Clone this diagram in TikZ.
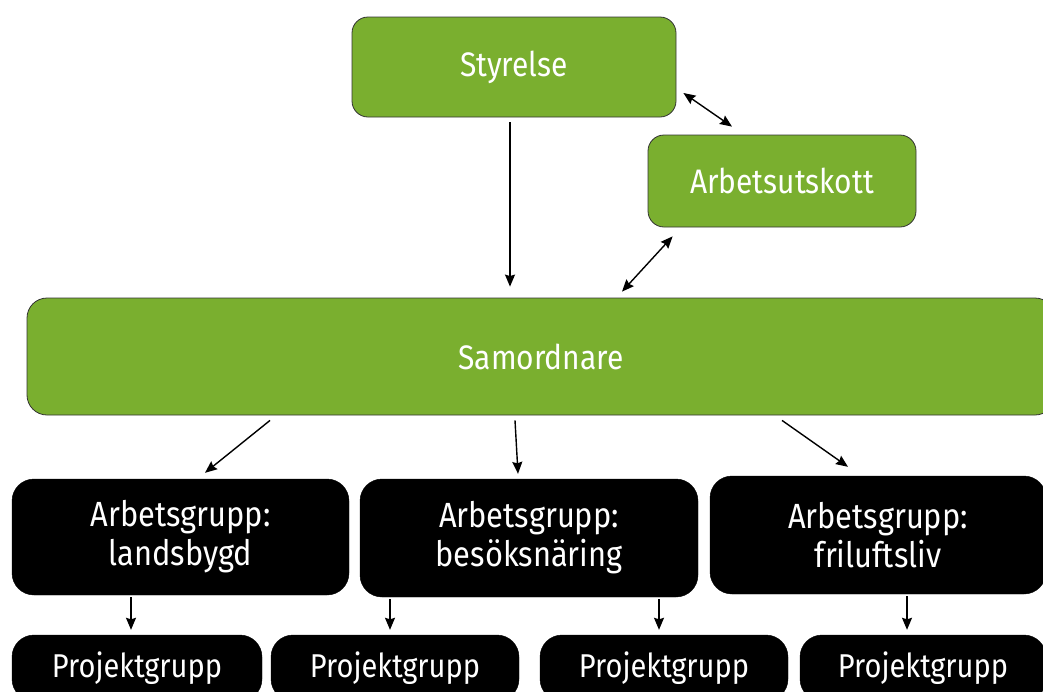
\documentclass[tikz,border=0pt]{standalone}
\usepackage{fontspec}
\setmainfont{Fira Sans}[FakeStretch=0.88]
\usetikzlibrary{arrows.meta,calc}
\definecolor{grn}{RGB}{122,175,47}
\begin{document}
\begin{tikzpicture}[x=1pt,y=-1pt,
  greenbox/.style={draw=black!80,line width=0.8pt,fill=grn,text=white,rounded corners=16pt,
    inner sep=0pt,font=\fontsize{34}{38}\selectfont,align=center},
  blackbox/.style={draw=black,fill=black,text=white,rounded corners=22pt,
    inner sep=0pt,font=\fontsize{35}{39}\selectfont,align=center},
  projbox/.style={blackbox,font=\fontsize{33}{36}\selectfont},
  tip/.tip={Stealth[length=12pt,width=10pt,inset=1.5pt]},
  arr/.style={line width=1.4pt,-tip},
  darr/.style={line width=1.4pt,tip-tip}]
\useasboundingbox (0,0) rectangle (1043,691);
\clip (0,0) rectangle (1043,691);
\node[greenbox,minimum width=324pt,minimum height=100pt] (sty) at (514,67) {Styrelse};
\node[greenbox,minimum width=268pt,minimum height=92pt] (au) at (782,181) {Arbetsutskott};
\node[greenbox,minimum width=1028pt,minimum height=117pt,rounded corners=20pt] (sam) at (541,356.5) {Samordnare};
\node[blackbox,minimum width=337pt,minimum height=116pt] (ag1) at (180.5,537) {Arbetsgrupp:\\landsbygd};
\node[blackbox,minimum width=338pt,minimum height=118pt] (ag2) at (529,538) {Arbetsgrupp:\\besöksnäring};
\node[blackbox,minimum width=336pt,minimum height=118pt] (ag3) at (878,535) {Arbetsgrupp:\\friluftsliv};
\node[projbox,minimum width=250pt,minimum height=66pt] (pg1) at (137,668) {Projektgrupp};
\node[projbox,minimum width=248pt,minimum height=66pt] (pg2) at (395,668) {Projektgrupp};
\node[projbox,minimum width=248pt,minimum height=66pt] (pg3) at (664,668) {Projektgrupp};
\node[projbox,minimum width=246pt,minimum height=66pt] (pg4) at (923,668) {Projektgrupp};
% connectors
\draw[arr] ($(sty.south)+(-4,5)$) -- ($(sam.north)+(-31,-11)$);
\draw[darr] ($(sty.east)+(7,26)$) -- ($(au.north)+(-50,-8)$);
\draw[darr] ($(au.south west)+(25,9)$) -- ($(sam.north)+(81,-6)$);
\draw[arr] ($(sam.south)+(-271,5)$) -- ($(ag1.north)+(24.5,-6)$);
\draw[arr] ($(sam.south)+(-26,5)$) -- ($(ag2.north)+(-11,-5)$);
\draw[arr] ($(sam.south)+(241,5)$) -- ($(ag3.north)+(-30,-9)$);
\draw[arr] ($(ag1.south)+(-49.5,2)$) -- ($(pg1.north)+(-6,-5)$);
\draw[arr] ($(ag2.south)+(-139,2)$) -- ($(pg2.north)+(-5,-5)$);
\draw[arr] ($(ag2.south)+(130,2)$) -- ($(pg3.north)+(-5,-5)$);
\draw[arr] ($(ag3.south)+(29,2)$) -- ($(pg4.north)+(-16,-5)$);
\end{tikzpicture}
\end{document}
